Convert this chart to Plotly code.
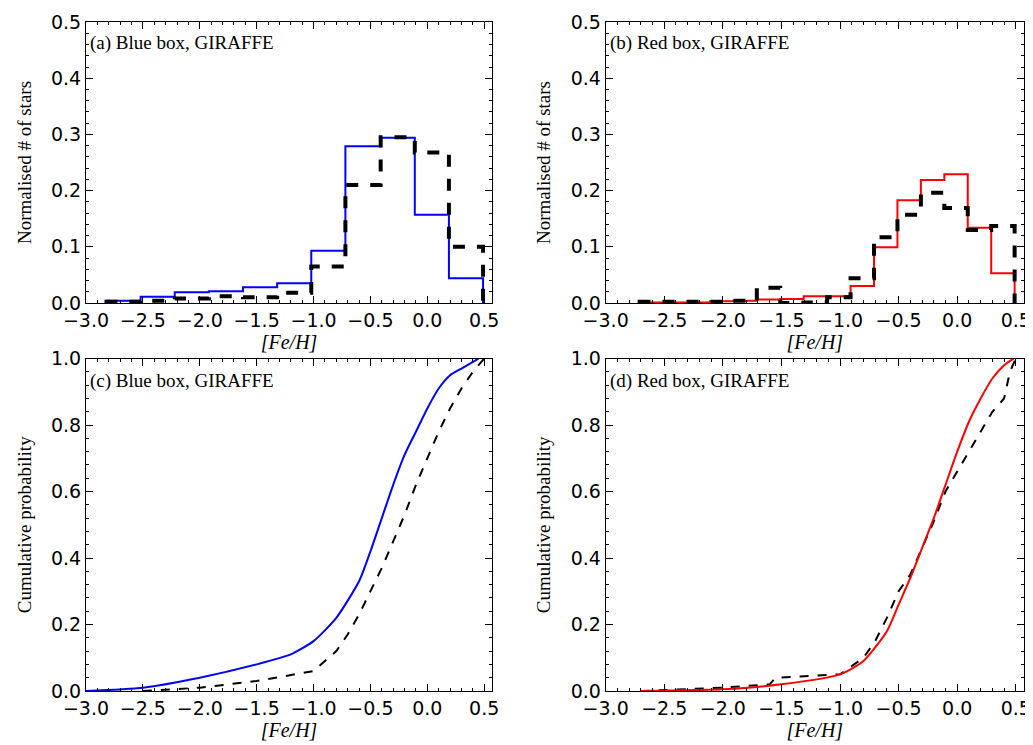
import plotly.graph_objects as go

# panel (a) blue box histogram, bin width ~0.3
edges_a = [-2.82, -2.52, -2.22, -1.92, -1.62, -1.32, -1.02, -0.72, -0.41, -0.11, 0.19, 0.49]
blue_a = [0.004, 0.011, 0.019, 0.021, 0.028, 0.035, 0.093, 0.279, 0.294, 0.157, 0.044]
black_a = [0.002, 0.004, 0.008, 0.012, 0.010, 0.018, 0.065, 0.210, 0.295, 0.268, 0.100]

# panel (b) red box histogram, bin width 0.2
edges_b = [-2.71, -2.51, -2.31, -2.11, -1.91, -1.71, -1.51, -1.31, -1.11, -0.91, -0.71,
           -0.51, -0.31, -0.11, 0.09, 0.29, 0.49]
red_b = [0.001, 0.001, 0.001, 0.003, 0.004, 0.006, 0.007, 0.012, 0.012, 0.030, 0.099,
         0.183, 0.219, 0.229, 0.134, 0.053]
black_b = [0.002, 0.002, 0.002, 0.002, 0.004, 0.027, 0.000, 0.001, 0.010, 0.044, 0.117,
           0.157, 0.196, 0.169, 0.130, 0.137]

# panel (c) cumulative, blue box
cx_blue = [-3.0, -2.5, -2.0, -1.5, -1.2, -1.0, -0.8, -0.6, -0.5, -0.4, -0.3, -0.2, -0.1, 0.0, 0.1, 0.2, 0.3, 0.45]
cy_blue = [0.0, 0.01, 0.04, 0.08, 0.11, 0.15, 0.22, 0.33, 0.42, 0.52, 0.62, 0.71, 0.78, 0.85, 0.91, 0.95, 0.97, 1.0]
cx_blk = [-2.5, -2.0, -1.5, -1.0, -0.8, -0.7, -0.6, -0.5, -0.4, -0.3, -0.2, -0.1, 0.0, 0.1, 0.2, 0.3, 0.4, 0.5]
cy_blk = [0.0, 0.01, 0.03, 0.06, 0.12, 0.17, 0.23, 0.30, 0.37, 0.45, 0.53, 0.62, 0.70, 0.78, 0.85, 0.91, 0.96, 1.0]

# panel (d) cumulative, red box
dx_red = [-2.7, -2.0, -1.5, -1.0, -0.8, -0.6, -0.5, -0.4, -0.3, -0.2, -0.1, 0.0, 0.1, 0.2, 0.3, 0.4, 0.48]
dy_red = [0.0, 0.005, 0.02, 0.05, 0.09, 0.18, 0.26, 0.34, 0.43, 0.52, 0.62, 0.72, 0.81, 0.88, 0.94, 0.98, 1.0]
dx_blk = [-2.7, -2.0, -1.6, -1.55, -1.0, -0.8, -0.7, -0.6, -0.5, -0.4, -0.3, -0.2, -0.1, 0.0, 0.1, 0.2, 0.3, 0.4, 0.45, 0.5]
dy_blk = [0.0, 0.01, 0.02, 0.04, 0.05, 0.10, 0.15, 0.22, 0.30, 0.35, 0.43, 0.51, 0.60, 0.66, 0.72, 0.78, 0.84, 0.88, 0.96, 1.0]

SERIF = "Liberation Serif"
fig = go.Figure()


def step(edges, vals):
    xs = [edges[0]] + list(edges) + [edges[-1]]
    ys = [0] + list(vals) + [vals[-1], 0]
    return xs, ys


def add_hist(edges, vals, color, dash, width, xa, ya):
    xs, ys = step(edges, vals)
    fig.add_trace(go.Scatter(x=xs, y=ys, mode="lines", line_shape="hv",
                             line=dict(color=color, width=width, dash=dash),
                             xaxis=xa, yaxis=ya, showlegend=False))


add_hist(edges_a, blue_a, "blue", "solid", 2, "x", "y")
add_hist(edges_a, black_a, "black", "dash", 4, "x", "y")
add_hist(edges_b, red_b, "red", "solid", 2, "x2", "y2")
add_hist(edges_b, black_b, "black", "dash", 4, "x2", "y2")

fig.add_trace(go.Scatter(x=cx_blk, y=cy_blk, mode="lines", line=dict(color="black", width=2, dash="dash"),
                         xaxis="x3", yaxis="y3", showlegend=False))
fig.add_trace(go.Scatter(x=cx_blue, y=cy_blue, mode="lines", line=dict(color="blue", width=2, shape="spline", smoothing=0.6),
                         xaxis="x3", yaxis="y3", showlegend=False))
fig.add_trace(go.Scatter(x=dx_blk, y=dy_blk, mode="lines", line=dict(color="black", width=2, dash="dash"),
                         xaxis="x4", yaxis="y4", showlegend=False))
fig.add_trace(go.Scatter(x=dx_red, y=dy_red, mode="lines", line=dict(color="red", width=2, shape="spline", smoothing=0.6),
                         xaxis="x4", yaxis="y4", showlegend=False))

xdom = [[0, 0.433], [0.554, 1], [0, 0.433], [0.554, 1]]
ydom = [[0.58, 1], [0.58, 1], [0, 0.497], [0, 0.497]]
ytitles = ["Normalised # of stars", "Normalised # of stars", "Cumulative probability", "Cumulative probability"]
yranges = [[0, 0.5001], [0, 0.5001], [0, 1.0002], [0, 1.0002]]
ydt = [0.1, 0.1, 0.2, 0.2]
labels = ["(a) Blue box, GIRAFFE", "(b) Red box, GIRAFFE", "(c) Blue box, GIRAFFE", "(d) Red box, GIRAFFE"]

layout = dict(width=1033, height=745, plot_bgcolor="white", paper_bgcolor="white",
              margin=dict(l=78, r=17, t=14, b=62),
              font=dict(family="DejaVu Sans", size=19, color="black"))
for i in range(4):
    s = "" if i == 0 else str(i + 1)
    layout["xaxis" + s] = dict(domain=xdom[i], range=[-3.0, 0.57], dtick=0.5, tick0=-3,
                               anchor="y" + s, showline=True, mirror="ticks", linecolor="black",
                               ticks="inside", ticklen=7, tickcolor="black", showgrid=False, zeroline=False,
                               tickformat=".1f", automargin=False,
                               minor=dict(ticks="inside", ticklen=3, dtick=0.1, tickcolor="black"),
                               title=dict(text="<i>[Fe/H]</i>", font=dict(family=SERIF, size=20), standoff=2))
    layout["yaxis" + s] = dict(domain=ydom[i], range=yranges[i], dtick=ydt[i], anchor="x" + s,
                               showline=True, mirror="ticks", linecolor="black",
                               ticks="inside", ticklen=7, tickcolor="black", showgrid=False, zeroline=False,
                               tickformat=".1f", automargin=False,
                               minor=dict(ticks="inside", ticklen=3, dtick=ydt[i] / 5, tickcolor="black"),
                               title=dict(text=ytitles[i], font=dict(family=SERIF, size=19), standoff=14))
fig.update_layout(**layout)

for i in range(4):
    s = "" if i == 0 else str(i + 1)
    fig.add_annotation(text=labels[i], xref=("x" + s + " domain"), yref=("y" + s + " domain"),
                       x=0.005, y=0.97, xanchor="left", yanchor="top", showarrow=False,
                       font=dict(family=SERIF, size=19, color="black"))

fig.write_html("out.html")
